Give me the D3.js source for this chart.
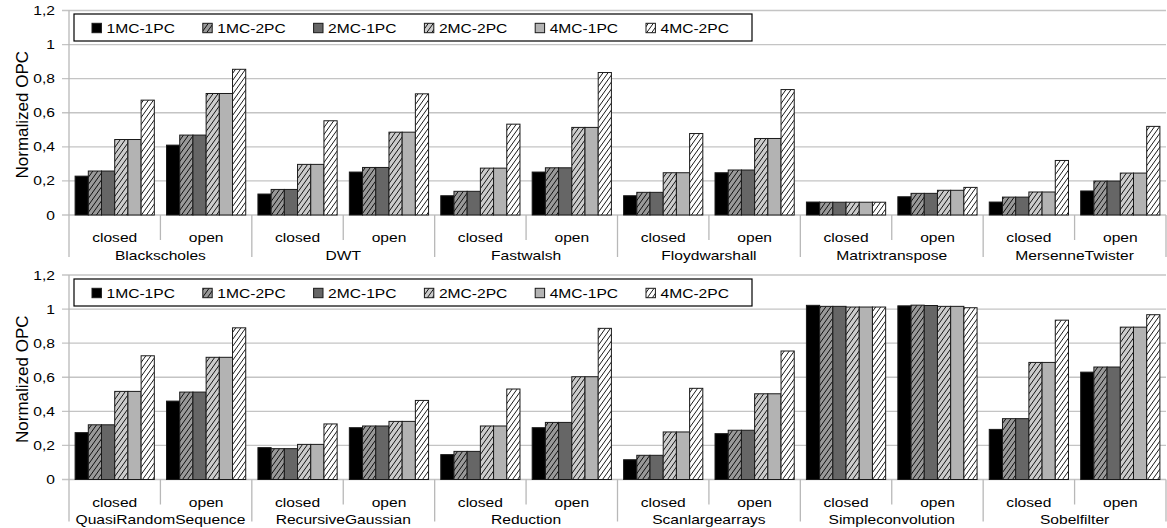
<!DOCTYPE html>
<html><head><meta charset="utf-8">
<script src="https://cdn.jsdelivr.net/npm/d3@7"></script>
<style>html,body{margin:0;padding:0;background:#fff;}svg{display:block;}</style>
</head><body>
<svg id="chart" width="1167" height="528"></svg>
<script>
// ---------- data ----------
const series = ["1MC-1PC","1MC-2PC","2MC-1PC","2MC-2PC","4MC-1PC","4MC-2PC"];
const modes = ["closed","open"];
const yTicks = [0,0.2,0.4,0.6,0.8,1,1.2];

const topBenchmarks = ["Blackscholes","DWT","Fastwalsh","Floydwarshall","Matrixtranspose","MersenneTwister"];
const top1MC1PC = [0.228,0.410,0.123,0.252,0.113,0.252,0.113,0.248,0.076,0.107,0.076,0.141];
const top1MC2PC = [0.258,0.469,0.150,0.279,0.139,0.277,0.133,0.264,0.075,0.127,0.105,0.199];
const top2MC1PC = [0.258,0.469,0.150,0.279,0.139,0.277,0.133,0.264,0.075,0.127,0.105,0.199];
const top2MC2PC = [0.443,0.713,0.297,0.486,0.275,0.514,0.248,0.449,0.075,0.145,0.135,0.246];
const top4MC1PC = [0.443,0.713,0.297,0.486,0.275,0.514,0.248,0.449,0.075,0.145,0.135,0.246];
const top4MC2PC = [0.674,0.855,0.553,0.711,0.533,0.836,0.478,0.736,0.075,0.162,0.320,0.520];

const bottomBenchmarks = ["QuasiRandomSequence","RecursiveGaussian","Reduction","Scanlargearrays","Simpleconvolution","Sobelfilter"];
const bot1MC1PC = [0.275,0.460,0.187,0.304,0.146,0.304,0.116,0.269,1.022,1.019,0.294,0.630];
const bot1MC2PC = [0.321,0.513,0.181,0.314,0.165,0.335,0.142,0.289,1.016,1.023,0.357,0.660];
const bot2MC1PC = [0.321,0.513,0.181,0.314,0.165,0.335,0.142,0.289,1.016,1.021,0.357,0.660];
const bot2MC2PC = [0.517,0.717,0.206,0.341,0.314,0.603,0.279,0.503,1.012,1.016,0.687,0.894];
const bot4MC1PC = [0.517,0.717,0.206,0.341,0.314,0.603,0.279,0.503,1.012,1.016,0.687,0.894];
const bot4MC2PC = [0.726,0.890,0.326,0.464,0.531,0.887,0.535,0.754,1.012,1.008,0.935,0.967];

// ---------- styles ----------
const seriesStyle = [
  {fill:"#000000", hatch:false},
  {fill:"#999999", hatch:true},
  {fill:"#666666", hatch:false},
  {fill:"#cccccc", hatch:true},
  {fill:"#b3b3b3", hatch:false},
  {fill:"#ffffff", hatch:true}
];
const FONT = "'Liberation Sans', Arial, sans-serif";
const SX = 1.2; // horizontal stretch of text in reference

const svg = d3.select("#chart");
const defs = svg.append("defs");
seriesStyle.forEach((s,i)=>{
  if(!s.hatch) return;
  const w=5,h=7;
  const p = defs.append("pattern").attr("id","hatch"+i)
    .attr("patternUnits","userSpaceOnUse").attr("width",w).attr("height",h);
  p.append("rect").attr("width",w).attr("height",h).attr("fill",s.fill);
  p.append("path").attr("d",`M${-w},${h} L${w},${-h} M0,${h} L${w},0 M0,${2*h} L${2*w},0`)
    .attr("stroke","#000").attr("stroke-width",0.9).attr("fill","none");
});
const fillOf = i => seriesStyle[i].hatch ? `url(#hatch${i})` : seriesStyle[i].fill;

const fmt = d => String(+d.toFixed(1)).replace(".", ",");

function stretchedText(g, x, y, txt, size, anchor){
  return g.append("text")
    .attr("transform",`translate(${x},${y}) scale(${SX},1)`)
    .attr("text-anchor",anchor||"middle")
    .attr("dy","0.35em")
    .attr("font-family",FONT).attr("font-size",size).attr("fill","#000")
    .text(txt);
}

function drawPanel(cfg){
  const g = svg.append("g");
  const left = 69, right = 1166;
  const y = d3.scaleLinear().domain([0,1.2]).range([cfg.yZero, cfg.yTop]);
  const subcats = d3.range(12);
  const x0 = d3.scaleBand().domain(subcats).range([left,right]).padding(0);
  const x1 = d3.scaleBand().domain(series).range([0,x0.bandwidth()]).paddingInner(0).paddingOuter(0.462);

  // gridlines
  g.append("g").selectAll("line").data(yTicks).join("line")
    .attr("x1",left-7).attr("x2",right).attr("y1",d=>y(d)).attr("y2",d=>y(d))
    .attr("stroke","#c4c4c4").attr("stroke-width",1.3);
  // left axis line
  g.append("line").attr("x1",left).attr("x2",left).attr("y1",y(1.2)).attr("y2",y(0))
    .attr("stroke","#b8b8b8").attr("stroke-width",1.3);
  // tick labels
  yTicks.forEach(t=>stretchedText(g, 55, y(t), fmt(t), 13, "end"));

  // dividers
  const bounds = d3.range(13);
  g.append("g").selectAll("line").data(bounds).join("line")
    .attr("x1",i=> i<12 ? x0(i) : right).attr("x2",i=> i<12 ? x0(i) : right)
    .attr("y1",y(0)).attr("y2",i=> i%2===0 ? y(0)+42 : y(0)+25)
    .attr("stroke","#b8b8b8").attr("stroke-width",1.3);

  // bars
  const rows = [];
  cfg.values.forEach((arr,si)=>arr.forEach((v,ci)=>rows.push({si,ci,v})));
  g.append("g").selectAll("rect").data(rows).join("rect")
    .attr("x",d=>x0(d.ci)+x1(series[d.si]))
    .attr("width",x1.bandwidth())
    .attr("y",d=>y(d.v))
    .attr("height",d=>y(0)-y(d.v))
    .attr("fill",d=>fillOf(d.si))
    .attr("stroke","#1a1a1a").attr("stroke-width",1);

  // x labels
  subcats.forEach(i=>stretchedText(g, x0(i)+x0.bandwidth()/2, y(0)+22.7, modes[i%2], 13));
  cfg.benchmarks.forEach((b,j)=>stretchedText(g, x0(2*j)+x0.bandwidth(), y(0)+40, b, 13));

  // y label
  g.append("text")
    .attr("transform",`translate(22,${(y(0)+y(1.2))/2+2}) rotate(-90)`)
    .attr("text-anchor","middle").attr("dy","0.35em")
    .attr("font-family",FONT).attr("font-size",17).attr("fill","#000")
    .text("Normalized OPC");

  // legend
  const lg = g.append("g");
  lg.append("rect").attr("x",74).attr("y",cfg.legendY).attr("width",678).attr("height",27)
    .attr("fill","#fff").attr("stroke","#000").attr("stroke-width",1.2);
  const cy = cfg.legendY+14;
  series.forEach((s,i)=>{
    const lx = 92 + i*110.8;
    lg.append("rect").attr("x",lx).attr("y",cy-4.7).attr("width",9.4).attr("height",9.4)
      .attr("fill",fillOf(i)).attr("stroke","#1a1a1a").attr("stroke-width",1);
    stretchedText(lg, lx+14.5, cy, s, 13, "start");
  });
}

drawPanel({yTop:10.5, yZero:215, benchmarks:topBenchmarks, legendY:14,
  values:[top1MC1PC,top1MC2PC,top2MC1PC,top2MC2PC,top4MC1PC,top4MC2PC]});
drawPanel({yTop:275, yZero:479.5, benchmarks:bottomBenchmarks, legendY:279,
  values:[bot1MC1PC,bot1MC2PC,bot2MC1PC,bot2MC2PC,bot4MC1PC,bot4MC2PC]});
</script>
</body></html>
